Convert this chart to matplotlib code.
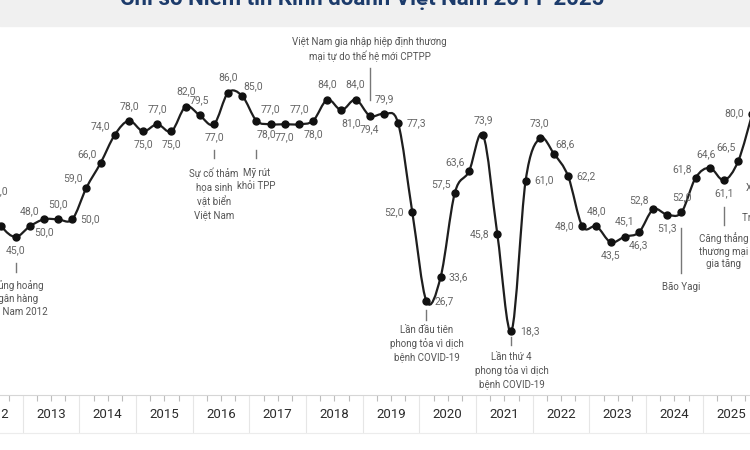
import numpy as np
import matplotlib
matplotlib.use("Agg")
import matplotlib.pyplot as plt
from matplotlib.path import Path
from matplotlib.patches import PathPatch, Rectangle

plt.rcParams['font.family'] = ['Roboto', 'DejaVu Sans']

# data
title = "Chỉ số Niềm tin Kinh doanh Việt Nam 2011-2025"
years = list(range(2012, 2026))
start_year, start_q = 2012, 2
values = [55.0, 48.0, 45.0,
          48.0, 50.0, 50.0, 50.0,
          59.0, 66.0, 74.0, 78.0,
          75.0, 77.0, 75.0, 82.0,
          79.5, 77.0, 86.0, 85.0,
          78.0, 77.0, 77.0, 77.0,
          78.0, 84.0, 81.0, 84.0,
          79.4, 79.9, 77.3, 52.0,
          26.7, 33.6, 57.5, 63.6,
          73.9, 45.8, 18.3, 61.0,
          73.0, 68.6, 62.2, 48.0,
          48.0, 43.5, 45.1, 46.3,
          52.8, 51.3, 52.0, 61.8,
          64.6, 61.1, 66.5, 80.0]

events = [
    (2012, 4, "Khủng hoảng\nngân hàng\nViệt Nam 2012"),
    (2016, 2, "Sự cố thảm\nhọa sinh\nvật biển\nViệt Nam"),
    (2017, 1, "Mỹ rút\nkhỏi TPP"),
    (2019, 1, "Việt Nam gia nhập hiệp định thương\nmại tự do thế hệ mới CPTPP"),
    (2020, 1, "Lần đầu tiên\nphong tỏa vì dịch\nbệnh COVID-19"),
    (2021, 3, "Lần thứ 4\nphong tỏa vì dịch\nbệnh COVID-19"),
    (2024, 3, "Bão Yagi"),
    (2025, 2, "Căng thẳng\nthương mại\ngia tăng"),
]

# layout of labels (position codes) and event lines (in value units)
label_side = ['ar', 'bl', 'b',
              'a', 'b', 'a', 'r',
              'al', 'al', 'al', 'a',
              'b', 'a', 'b', 'a',
              'a', 'b', 'a', 'ar',
              'br', 'a', 'b', 'a',
              'b', 'a', 'br', 'a',
              'b', 'a', 'r', 'l',
              'r', 'r', 'al', 'al',
              'a', 'l', 'r', 'r',
              'a', 'ar', 'r', 'l',
              'a', 'b', 'a', 'b',
              'al', 'b', 'a', 'al',
              'a-', 'b', 'al+', 'l']
offsets = {'a': (0, 15), 'b': (0, -13), 'l': (-18, 0), 'r': (18, 0),
           'al': (-14, 9), 'ar': (11, 10), 'br': (10, -13), 'bl': (-11, -11),
           'a-': (-4, 14), 'al+': (-12, 14)}
event_layout = [(37.6, 35.0, 32.8, 'top'),
                (69.6, 67.4, 64.6, 'top'),
                (69.6, 67.4, 64.6, 'top'),
                (83.9, 93.0, 94.7, 'bottom'),
                (24.2, 21.4, 20.0, 'top'),
                (16.6, 14.3, 12.3, 'top'),
                (47.5, 34.7, 32.2, 'top'),
                (53.5, 48.4, 46.4, 'top')]

x = start_year + (start_q - 0.5) / 4 + 0.25 * np.arange(len(values))
y = np.array(values)

fig = plt.figure(figsize=(7.5, 4.5), dpi=100)
xl = (2012.5994, 2025.834)

# header band
fig.add_artist(Rectangle((0, 1 - 26 / 450), 1, 26 / 450, transform=fig.transFigure,
                         color='#f0f0f0', zorder=0))
fig.text(0.483, 1 - 5 / 450, title, ha='center', va='baseline', fontsize=16,
         fontweight='bold', color='#1c3b6b')

ax = fig.add_axes([0, (450 - 395.3) / 450, 1, (395.3 - 27) / 450])
ax.set_xlim(*xl)
ax.set_ylim(0, (395.3 - 27) / 3.52)
ax.set_axis_off()

# smooth line (catmull-rom through the points, drawn as bezier path)
verts = [(x[0], y[0])]
codes = [Path.MOVETO]
n = len(x)
for i in range(n - 1):
    p0 = np.array([x[max(i - 1, 0)], y[max(i - 1, 0)]])
    p1 = np.array([x[i], y[i]])
    p2 = np.array([x[i + 1], y[i + 1]])
    p3 = np.array([x[min(i + 2, n - 1)], y[min(i + 2, n - 1)]])
    c1 = p1 + (p2 - p0) / 6
    c2 = p2 - (p3 - p1) / 6
    verts += [tuple(c1), tuple(c2), tuple(p2)]
    codes += [Path.CURVE4] * 3
ax.add_patch(PathPatch(Path(verts, codes), fill=False, edgecolor='#1e1e1e', lw=1.6, zorder=3))
ax.plot(x, y, 'o', color='#111111', ms=5, zorder=4)

for xi, yi, v, side in zip(x, y, values, label_side):
    dx, dy = offsets[side]
    ax.annotate(f"{v:.1f}".replace(".", ","), (xi, yi), xytext=(dx * 0.72, dy * 0.72),
                textcoords='offset points', ha='center', va='center',
                fontsize=7.5, color='#666666', zorder=5, annotation_clip=False)

for (yr, q, txt), (l0, l1, ty, va) in zip(events, event_layout):
    ex = yr + (q - 0.5) / 4
    ax.plot([ex, ex], [l0, l1], color='#777777', lw=1, zorder=2)
    ax.text(ex, ty, txt, ha='center', va=va, fontsize=7, color='#555555',
            linespacing=1.35, zorder=5)

# partly visible notes at the right edge
ax.text(2025.77, (395.3 - 188) / 3.52, "Xuất khẩu", ha='left', va='center',
        fontsize=7, color='#555555')
ax.text(2025.69, (395.3 - 217) / 3.52, "Trump áp thuế", ha='left', va='center',
        fontsize=7, color='#555555')

# year band
bx = fig.add_axes([0, 17 / 450, 1, (433 - 395.3) / 450])
bx.set_xlim(*xl)
bx.set_ylim(0, 1)
bx.set_xticks([])
bx.set_yticks([])
for s in ['left', 'right']:
    bx.spines[s].set_visible(False)
bx.spines['top'].set_color('#d6d6d6')
bx.spines['bottom'].set_color('#ececec')
bx.vlines(years, 0, 1, color='#e6e6e6', lw=0.8)
qt = [yr + k / 4 for yr in years for k in (1, 2, 3)]
bx.vlines(qt, 0.84, 1, color='#bdbdbd', lw=0.8)
for yr in years:
    bx.text(yr + 0.5, 0.5, str(yr), ha='center', va='center', fontsize=9.5,
            color='#2b2b2b')

fig.savefig('out.png', dpi=100)
